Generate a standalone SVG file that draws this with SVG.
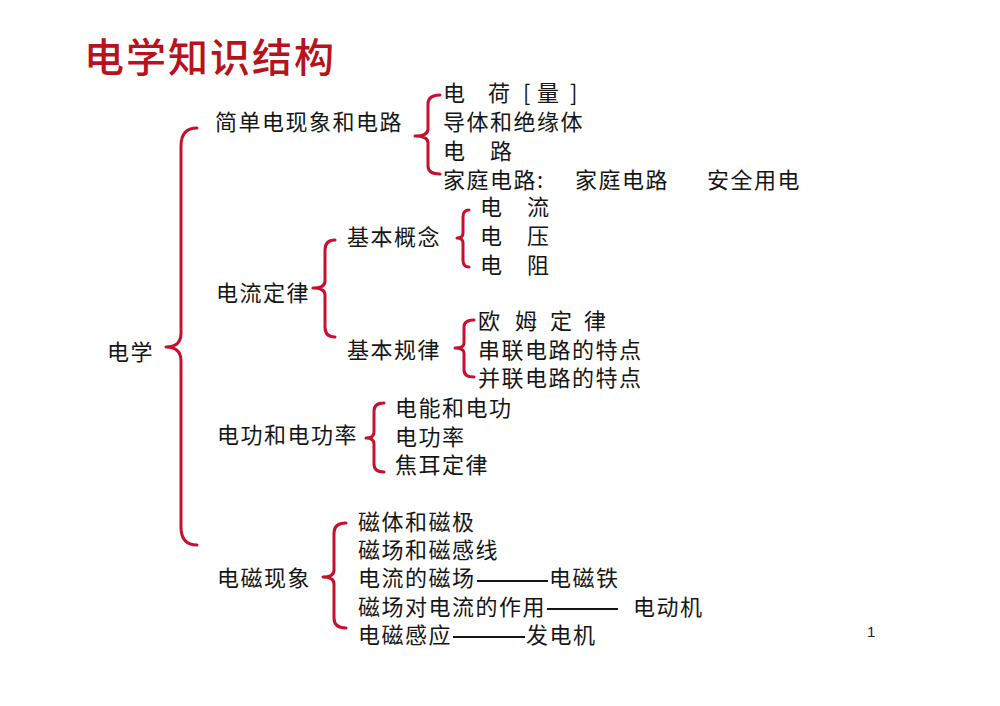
<svg xmlns="http://www.w3.org/2000/svg" width="1000" height="706" viewBox="0 0 1000 706">
<style>
.t{font-family:"Noto Sans CJK SC","Noto Sans",sans-serif;font-size:22px;fill:#151515;letter-spacing:1.5px;dominant-baseline:central}
.title{font-family:"Noto Sans CJK SC",sans-serif;font-size:40px;font-weight:500;fill:#b8121c;letter-spacing:2px;dominant-baseline:central}
.br{fill:none;stroke:#c8102e;stroke-width:3;stroke-linecap:round;stroke-linejoin:round}
.ln{stroke:#151515;stroke-width:2}
.pg{font-family:"Liberation Sans",sans-serif;font-size:15px;fill:#222}
</style>
<rect width="1000" height="706" fill="#fff"/>
<text class="title" x="84" y="55">电学知识结构</text>
<g id="connectors">
<path class="br" d="M197,128 Q181,128 181,146 L181,333 Q181,347 166,347 Q181,347 181,361 L181,527 Q181,545 197,545"/>
<path class="br" d="M440,95 Q428,95 428,104 L428,129 Q428,136 415,136 Q428,136 428,143 L428,166 Q428,174 440,174"/>
<path class="br" d="M335,240 Q325,240 325,250 L325,281 Q325,288 313,288 Q325,288 325,295 L325,327 Q325,337 335,337"/>
<path class="br" d="M469,210 Q463,210 463,217 L463,233 Q463,238 457,238 Q463,238 463,243 L463,260 Q463,267 469,267"/>
<path class="br" d="M474,320 Q464,320 464,327 L464,343 Q464,348 455,348 Q464,348 464,353 L464,370 Q464,377 474,377"/>
<path class="br" d="M384,403 Q374,403 374,411 L374,432 Q374,438 366,438 Q374,438 374,444 L374,464 Q374,472 384,472"/>
<path class="br" d="M346,523 Q334,523 334,533 L334,570 Q334,577 323,577 Q334,577 334,584 L334,618 Q334,628 346,628"/>
<line class="ln" x1="477" y1="581" x2="548" y2="581"/>
<line class="ln" x1="547" y1="609" x2="618" y2="609"/>
<line class="ln" x1="453" y1="637" x2="525" y2="637"/>
</g>
<g id="n-root"><text class="t" x="107" y="350">电学</text></g>
<g id="n-simple">
<text class="t" x="215" y="120">简单电现象和电路</text>
<text class="t" x="443 466 488 511 523 530 537 560 570" y="91">电　荷 [ 量 ]</text>
<text class="t" x="443" y="120">导体和绝缘体</text>
<text class="t" x="443" y="149">电　路</text>
<text class="t" y="178"><tspan x="443">家庭电路:</tspan><tspan x="575">家庭电路</tspan><tspan x="707">安全用电</tspan></text>
</g>
<g id="n-current">
<text class="t" x="216" y="291">电流定律</text>
</g>
<g id="n-concept">
<text class="t" x="347" y="235">基本概念</text>
<text class="t" x="480" y="205">电　流</text>
<text class="t" x="480" y="234">电　压</text>
<text class="t" x="480" y="263">电　阻</text>
</g>
<g id="n-law">
<text class="t" x="347" y="348">基本规律</text>
<text class="t" x="478 500 515 537 550 572 584" y="319">欧 姆 定 律</text>
<text class="t" x="478" y="348">串联电路的特点</text>
<text class="t" x="478" y="376">并联电路的特点</text>
</g>
<g id="n-power">
<text class="t" x="217" y="433">电功和电功率</text>
<text class="t" x="395" y="406">电能和电功</text>
<text class="t" x="395" y="435">电功率</text>
<text class="t" x="395" y="463">焦耳定律</text>
</g>
<g id="n-magnet">
<text class="t" x="217" y="576">电磁现象</text>
<text class="t" x="358" y="520">磁体和磁极</text>
<text class="t" x="358" y="548">磁场和磁感线</text>
<text class="t" y="576"><tspan x="358">电流的磁场</tspan><tspan x="549">电磁铁</tspan></text>
<text class="t" y="605"><tspan x="358">磁场对电流的作用</tspan><tspan x="633">电动机</tspan></text>
<text class="t" y="633"><tspan x="358">电磁感应</tspan><tspan x="526">发电机</tspan></text>
</g>
<text class="pg" x="867" y="637">1</text>
</svg>
